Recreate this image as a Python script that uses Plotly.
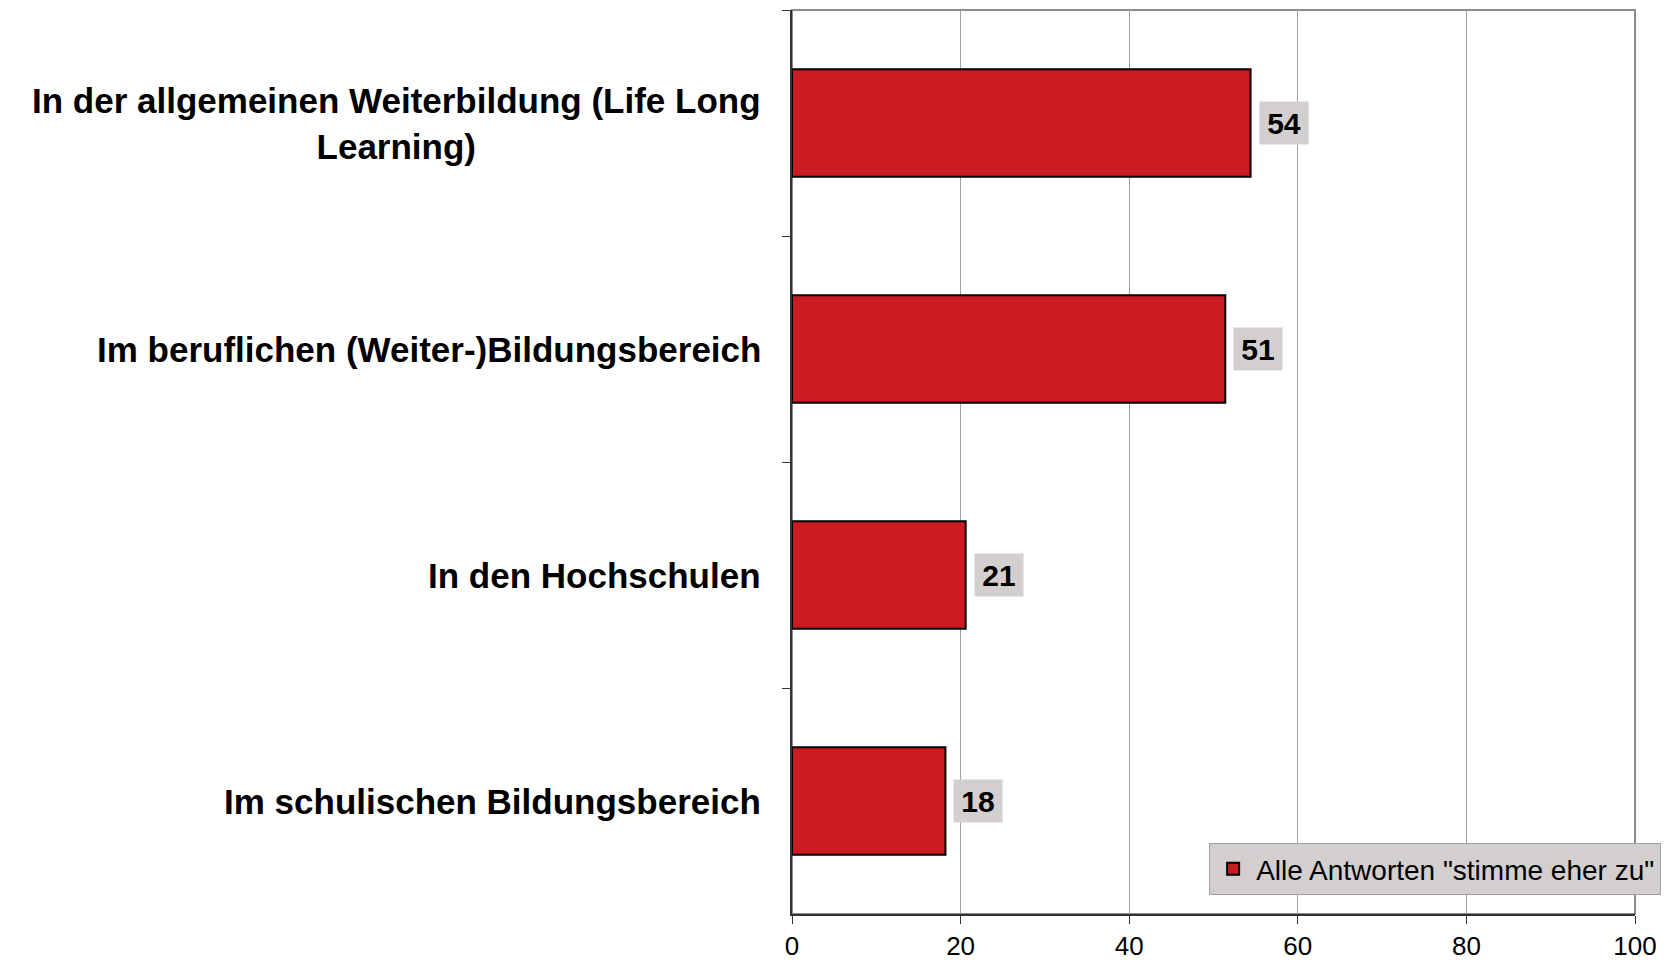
import plotly.graph_objects as go

categories = [
    "In der allgemeinen Weiterbildung (Life Long<br>Learning)",
    "Im beruflichen (Weiter-)Bildungsbereich",
    "In den Hochschulen",
    "Im schulischen Bildungsbereich",
]
values = [54.4, 51.4, 20.6, 18.2]
series_name = 'Alle Antworten "stimme eher zu"'
x_ticks = [0, 20, 40, 60, 80, 100]

FONT = "Liberation Sans, Arial, sans-serif"
BAR_COLOR = "#cc1b20"
LABEL_BG = "#d3cfcf"

fig = go.Figure()
fig.add_trace(go.Bar(
    x=values,
    y=categories,
    orientation="h",
    name=series_name,
    marker=dict(color=BAR_COLOR, line=dict(color="black", width=2)),
    showlegend=True,
))

annotations = []
for c, v in zip(categories, values):
    annotations.append(dict(
        x=v, y=c, xref="x", yref="y",
        text="<b>%d</b>" % round(v),
        showarrow=False, xanchor="left", yanchor="middle",
        xshift=8,
        width=38, height=32,
        bgcolor=LABEL_BG,
        borderpad=5,
        font=dict(family=FONT, size=30, color="black"),
    ))
    annotations.append(dict(
        x=0, y=c, xref="paper", yref="y",
        text="<b>%s</b>" % c,
        showarrow=False, xanchor="right", yanchor="middle",
        xshift=-29, align="center",
        font=dict(family=FONT, size=35, color="black"),
    ))

fig.update_layout(
    width=1668, height=960,
    margin=dict(l=792, r=33, t=10, b=46, autoexpand=False),
    paper_bgcolor="white",
    plot_bgcolor="white",
    bargap=0.525,
    font=dict(family=FONT, color="black"),
    annotations=annotations,
    legend=dict(
        x=1.031, xanchor="right", y=0.021, yanchor="bottom",
        bgcolor=LABEL_BG, bordercolor="#a0a0a0", borderwidth=1,
        itemwidth=36,
        font=dict(family=FONT, size=28, color="black"),
    ),
    shapes=[dict(
        type="rect", xref="paper", yref="paper",
        x0=0, x1=1, y0=0, y1=1,
        line=dict(color="#8c8c8c", width=2), layer="below",
    )],
)

fig.update_xaxes(
    range=[0, 100],
    automargin=False,
    tickvals=x_ticks,
    ticks="outside", ticklen=8, tickcolor="#333333",
    ticklabelstandoff=0,
    showgrid=True, gridcolor="#a0a0a0", gridwidth=1,
    showline=True, linecolor="#333333", linewidth=2,
    zeroline=False,
    tickfont=dict(family=FONT, size=26, color="black"),
)
fig.update_yaxes(
    autorange="reversed",
    automargin=False,
    showticklabels=False,
    tickson="boundaries",
    ticks="outside", ticklen=8, tickcolor="#333333",
    showgrid=False,
    showline=True, linecolor="#333333", linewidth=2,
)

fig.write_html(
    "out.html",
    config={"displayModeBar": False},
    post_script="document.body.style.margin='0';document.body.style.overflow='hidden';",
)
